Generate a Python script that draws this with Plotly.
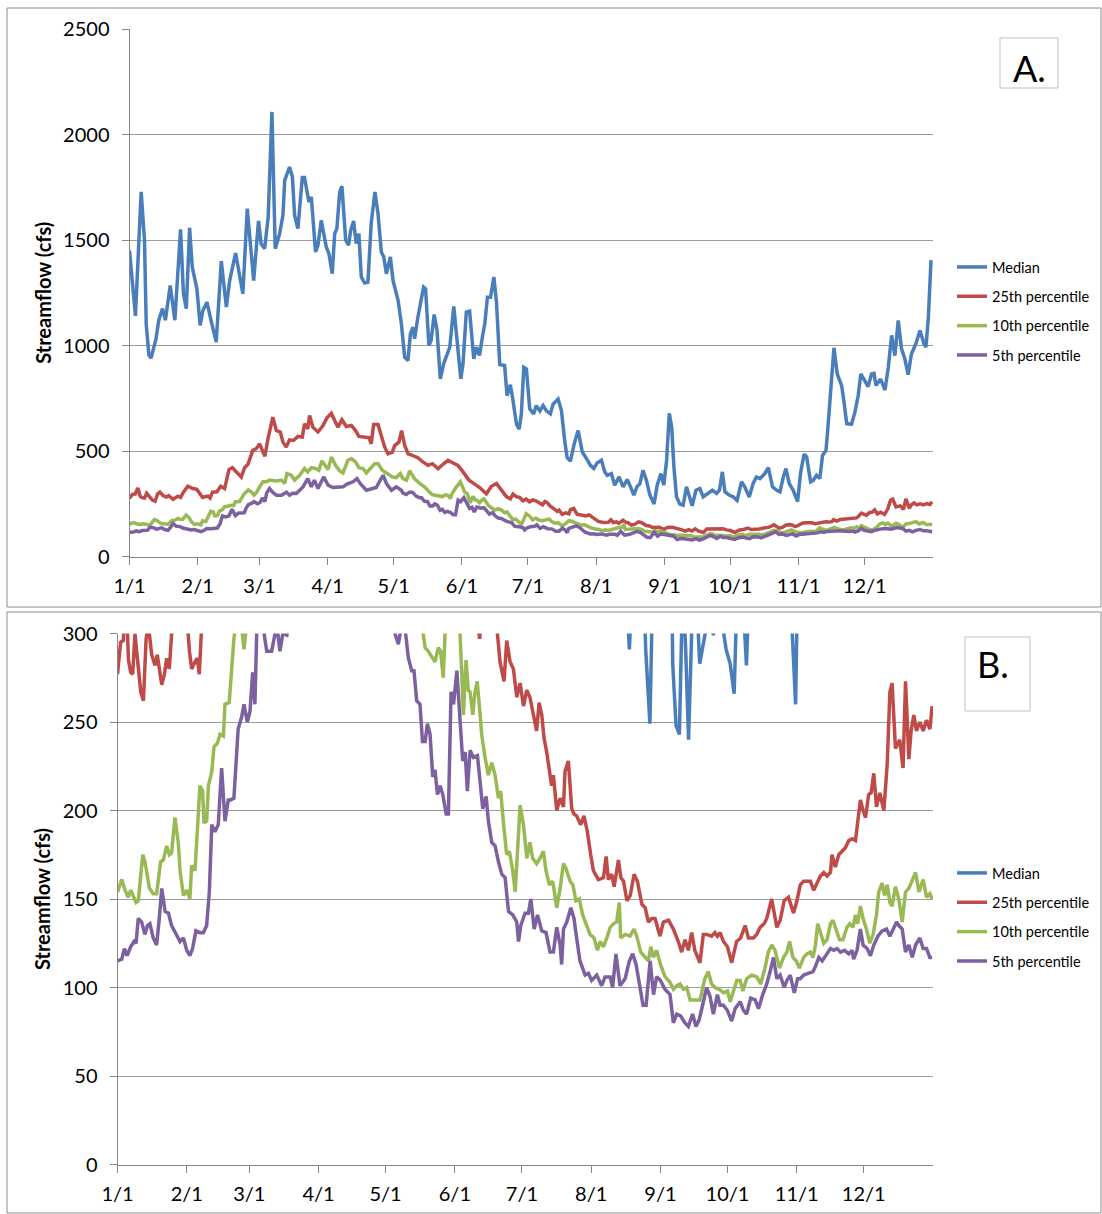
import plotly.graph_objects as go

# ---------------- data (day of year, cfs) ----------------
month_days = [0, 31, 59, 90, 120, 151, 181, 212, 243, 273, 304, 334]
month_labels = ["1/1", "2/1", "3/1", "4/1", "5/1", "6/1", "7/1", "8/1", "9/1", "10/1", "11/1", "12/1"]
series_names = ["Median", "25th percentile", "10th percentile", "5th percentile"]

median_day = [0, 2.7, 5.3, 6.8, 7.6, 8.8, 9.8, 12, 13.3, 15, 16.3, 18.5, 20.6, 23.2, 24.5, 25.8, 27.3, 28.5, 30.6, 32.1,
              33.3, 35.2, 37, 39.4, 41.7, 44, 45.5, 48.2, 51.5, 53.5, 56.4, 58.6, 59.8, 61.4, 63, 64.7, 66.2, 68.2, 69.7, 70.5,
              72.7, 74, 75, 76.5, 78.5, 79.5, 81.5, 82.6, 84.5, 85.6, 87.1, 89.4, 90.6, 92.1, 93.2, 94.2, 95.5, 96.5, 98.2, 99.5,
              100.5, 101.8, 103, 104.2, 105.3, 106.8, 108.3, 109.8, 111.5, 112.9, 114.4, 115.5, 116.7, 118.5, 119.7, 122, 123.5, 125, 126.5, 127.6,
              128.8, 129.5, 131, 133.6, 134.5, 136, 137, 138.4, 139.7, 141.2, 142.7, 145.5, 147.3, 148.5, 150.5, 151.5, 153, 154.5, 156.4, 157.6,
              159, 160.3, 161.4, 162.6, 164, 165.5, 166.7, 168.2, 170.4, 171.5, 173, 174, 175.8, 177, 178, 179.1, 180.3, 181.8, 183.6, 184.8,
              186.4, 187.9, 189.4, 191.2, 192.4, 194.7, 196.2, 197.7, 198.8, 200.3, 202, 203.8, 205.7, 207.6, 209.4, 210.9, 212.4, 214.4, 215.9, 217,
              218.9, 220.4, 222.4, 224.2, 226.1, 227.6, 229.1, 230.6, 231.8, 233.3, 234.8, 236.4, 238.3, 239.7, 241.4, 242.7, 244, 245.2, 246.3, 247.3,
              248.5, 250, 251.5, 253, 254.3, 255.6, 257.3, 259.1, 260.6, 262.9, 264.8, 266.7, 268, 269.3, 270.5, 272.4, 274.2, 276, 278, 279.5,
              281.5, 283.3, 284.8, 286.4, 288.6, 290.2, 292.1, 294, 295.5, 297, 298.2, 299.7, 301.5, 303.5, 304.8, 306.4, 307.6, 309.4, 310.6, 312.1,
              313.6, 314.8, 316.4, 317.4, 318.9, 320, 321.5, 323.5, 324.5, 325.8, 328, 329.5, 331, 332.2, 333.6, 335.5, 337.1, 338.2, 339.1, 341.2,
              343.2, 344.7, 346.2, 347.7, 349.2, 350.7, 352.2, 353.7, 355.2, 357.2, 359.1, 360.9, 361.8, 362.9, 364.1]
median_cfs = [1450, 1140, 1728, 1500, 1100, 955, 940, 1030, 1120, 1175, 1120, 1285, 1120, 1550, 1245, 1175, 1558, 1372, 1270, 1095,
              1165, 1205, 1120, 1016, 1400, 1182, 1308, 1438, 1245, 1649, 1308, 1590, 1482, 1459, 1609, 2107, 1459, 1530, 1617, 1783,
              1846, 1799, 1617, 1554, 1796, 1796, 1680, 1704, 1443, 1475, 1593, 1467, 1435, 1340, 1530, 1554, 1728, 1755, 1500, 1475,
              1546, 1590, 1483, 1530, 1325, 1296, 1300, 1580, 1728, 1625, 1443, 1420, 1340, 1420, 1308, 1214, 1103, 945, 929, 1055,
              1087, 1032, 1134, 1277, 1269, 1000, 1024, 1147, 1071, 842, 913, 992, 1185, 1055, 842, 913, 1158, 1163, 937, 992,
              953, 1040, 1103, 1229, 1229, 1325, 1206, 910, 905, 762, 814, 754, 627, 603, 675, 897, 889, 700, 676, 715,
              690, 715, 690, 676, 722, 746, 692, 548, 468, 452, 534, 597, 495, 464, 432, 417, 443, 456, 401, 385,
              393, 338, 377, 330, 365, 330, 291, 333, 343, 409, 362, 291, 249, 338, 393, 338, 456, 679, 613, 424,
              283, 248, 243, 330, 291, 240, 314, 322, 283, 299, 314, 299, 314, 401, 307, 291, 283, 266, 354, 330,
              282, 346, 377, 369, 393, 421, 330, 314, 307, 377, 417, 346, 314, 260, 393, 484, 472, 354, 361, 385,
              369, 479, 503, 629, 833, 989, 865, 810, 738, 630, 627, 683, 762, 865, 841, 805, 865, 868, 810, 841,
              789, 897, 1048, 952, 1119, 984, 937, 862, 960, 1008, 1071, 1008, 992, 1135, 1405]

p25_day = [0, 1.4, 2.6, 3.8, 4.9, 5.9, 6.8, 7.8, 8.9, 10.4, 11.6, 12.8, 13.8, 15.3, 16.8, 17.8, 19.8, 21, 22, 23.2,
           24.5, 26.5, 28.8, 30.6, 32.2, 33.2, 34.7, 35.7, 36.6, 37.7, 39.7, 41.4, 43.2, 45.2, 46.7, 48.5, 50.8, 52.3, 53.8, 56,
           57.6, 59.1, 60.6, 61.5, 62.9, 65.1, 66.7, 68.5, 69.7, 71.2, 72.7, 74.5, 76.5, 78.5, 79.5, 81, 81.8, 83.3, 85.6, 87.9,
           89.7, 91.7, 93.2, 94.7, 96.5, 98.5, 100.8, 102.7, 104.2, 106.8, 108.8, 109.8, 110.9, 112.9, 114.4, 115.9, 117.4, 119.4, 120.5, 122.4,
           123.6, 125, 126.5, 128.8, 131, 133.3, 135.6, 137.6, 140.2, 142.4, 144.7, 147, 149.2, 151.5, 154.2, 156.8, 159.1, 162.1, 164.4, 166.7,
           169, 171.2, 173, 174.2, 175.7, 177.2, 178.7, 180.2, 181.7, 183.2, 184.6, 187.6, 188.7, 189.9, 190.9, 192.1, 193.6, 194.3, 195.1, 196.6,
           198.1, 199.6, 200.3, 201.8, 203.3, 204.3, 205.5, 207.3, 208.8, 210.3, 211.8, 213, 215.2, 217.5, 218.7, 219.7, 221.2, 222.3, 224.2, 225.3,
           226.5, 228, 229.5, 231.2, 232.7, 234.7, 236.2, 237.6, 239.1, 240.6, 242.8, 244.3, 246.6, 248.8, 251, 252.5, 254, 255.5, 257, 258.4,
           260.7, 262.2, 263.7, 265.9, 267.4, 268.5, 269.7, 271.2, 273, 274.9, 277.1, 278.9, 280.9, 282.4, 284.6, 286.1, 287.6, 289.4, 290.6, 292.8,
           295.1, 296.6, 298.4, 300.3, 302.6, 304.1, 305.6, 307.1, 308.6, 310.1, 311.6, 313.1, 314.6, 316.1, 317.6, 319.1, 319.8, 321.3, 322.8, 324.3,
           325.8, 327.3, 328.8, 330.3, 331.3, 332.5, 333.7, 334.8, 336.2, 337.3, 338.5, 339.7, 341.2, 343, 344.5, 345.7, 346.7, 348.2, 350.1, 351.6,
           352.7, 354.2, 355.2, 356.4, 357.6, 359.1, 360.6, 362.1, 363.6, 364.6]
p25_cfs = [277, 295, 296, 325, 285, 278, 277, 300, 286, 267, 262, 297, 305, 288, 282, 288, 271, 277, 286, 280,
           305, 333, 322, 318, 290, 280, 284, 286, 277, 305, 307, 333, 322, 412, 421, 401, 377, 421, 437, 503,
           511, 534, 495, 475, 558, 660, 597, 590, 542, 519, 553, 550, 569, 566, 629, 605, 668, 613, 590, 621,
           657, 679, 645, 613, 648, 616, 621, 597, 569, 566, 563, 534, 626, 626, 574, 519, 487, 495, 527, 542,
           597, 527, 487, 479, 468, 448, 432, 440, 416, 437, 456, 443, 432, 401, 362, 343, 327, 297, 333, 346,
           314, 284, 273, 296, 284, 280, 264, 272, 259, 268, 264, 245, 261, 254, 241, 233, 220, 214, 220, 200,
           207, 202, 222, 228, 201, 198, 197, 192, 197, 188, 175, 166, 161, 162, 174, 161, 164, 157, 172, 162,
           160, 149, 152, 164, 160, 147, 145, 137, 139, 139, 129, 137, 138, 133, 126, 120, 127, 121, 131, 121,
           114, 130, 130, 129, 131, 129, 131, 126, 123, 114, 126, 128, 135, 128, 128, 130, 134, 136, 139, 150,
           134, 138, 149, 151, 142, 149, 158, 160, 160, 160, 155, 159, 163, 165, 163, 165, 175, 168, 175, 177,
           179, 183, 184, 183, 192, 206, 200, 196, 209, 210, 221, 202, 210, 200, 226, 267, 272, 235, 240, 224,
           273, 229, 245, 254, 245, 250, 245, 251, 246, 259]

p10_day = [0, 1.9, 3.4, 4.8, 5.9, 7.1, 8.3, 9.3, 11.3, 12.3, 14.3, 16, 17.5, 19.3, 20.5, 22, 23.2, 24.2, 25.7, 27.2,
           28, 29.5, 31, 32.4, 33.2, 34.7, 36.9, 38.1, 38.7, 39.9, 40.7, 42.2, 43.2, 44.7, 45.9, 47.4, 48.1, 50, 51.1, 52.1,
           54, 55.5, 56.6, 57.8, 59.1, 60.6, 62.1, 63.6, 66.7, 69, 70.5, 71.5, 73.5, 75, 77.3, 79.5, 81, 82.6, 84.5, 86,
           87.4, 89.1, 90.2, 91.7, 93.6, 95.5, 97, 99.2, 100.8, 102.7, 104.2, 106.1, 107.6, 109.4, 111.4, 112.9, 114.8, 116.7, 119.4, 121.2,
           123, 124.2, 125.8, 127.3, 129.5, 131.8, 134, 136.9, 137.7, 139.1, 140.6, 142.1, 143.6, 144.6, 145.8, 146.6, 148.5, 150.3, 152.3, 153.3,
           154.1, 154.8, 156, 157, 157.8, 159, 160, 161, 162.3, 163, 164.5, 166, 167.5, 169, 170.5, 171.5, 172.8, 174.2, 175.4, 176.9,
           178, 179, 180.2, 181.7, 183.2, 184.6, 185.8, 187.6, 189.1, 190.6, 191.8, 193.3, 194.8, 196.6, 198.1, 199.6, 200.8, 202.6, 203.8, 205.2,
           206.7, 208.2, 209.7, 211.5, 213.3, 214.8, 216, 217.5, 219, 220.5, 222, 223.4, 224.6, 225.2, 227.2, 229.4, 231.2, 232.4, 234.2, 236.1,
           237.6, 238.7, 239.9, 241.3, 243, 245.1, 247.3, 248.8, 250.3, 251.8, 253.3, 254.8, 256.3, 258.4, 260.7, 262.9, 264.4, 265.9, 267.4, 269.3,
           271.2, 273, 274.2, 275.7, 277.2, 278.7, 279.9, 281.6, 283.9, 286.1, 287.9, 289.8, 291.3, 292.8, 294.3, 296.3, 298.1, 299.6, 300.8, 302.3,
           303.8, 305.2, 307.1, 308.6, 310.1, 311.3, 312.4, 313.4, 314.6, 316.1, 317.6, 319.1, 320.2, 321.7, 323.2, 324.7, 326.5, 327.7, 329.2, 330.3,
           331.3, 332.5, 333.7, 335.2, 336.7, 338.2, 339.7, 340.7, 342.2, 343.3, 344.5, 345.7, 346.7, 348.2, 349.7, 351.2, 352.7, 354.2, 355.7, 357.2,
           358.7, 360.6, 362.1, 363.6, 364.6]
p10_cfs = [154, 161, 155, 151, 155, 152, 148, 149, 175, 171, 156, 153, 153, 171, 172, 180, 175, 176, 196, 182,
           166, 152, 155, 150, 169, 166, 214, 211, 193, 194, 214, 222, 236, 238, 243, 242, 260, 261, 282, 297,
           315, 305, 291, 305, 330, 354, 354, 362, 358, 362, 346, 393, 385, 362, 385, 417, 401, 421, 417, 409,
           453, 428, 412, 472, 432, 406, 396, 456, 464, 448, 421, 417, 396, 417, 440, 440, 409, 396, 377, 374,
           393, 369, 362, 406, 369, 346, 330, 299, 292, 290, 287, 284, 292, 290, 275, 300, 330, 354, 305, 300,
           277, 254, 285, 268, 267, 254, 267, 273, 254, 243, 230, 220, 227, 220, 207, 211, 192, 175, 177, 166,
           154, 173, 203, 192, 173, 182, 173, 170, 173, 177, 166, 158, 160, 145, 156, 170, 167, 160, 158, 149,
           150, 141, 136, 130, 128, 121, 126, 123, 128, 134, 136, 137, 148, 128, 130, 129, 133, 129, 120, 117,
           115, 123, 117, 121, 113, 106, 103, 99, 101, 102, 99, 100, 93, 93, 93, 105, 109, 102, 100, 99,
           97, 98, 92, 98, 104, 104, 98, 105, 107, 106, 102, 111, 120, 124, 121, 111, 117, 120, 126, 117,
           115, 111, 117, 119, 120, 117, 124, 136, 131, 125, 127, 136, 138, 132, 127, 127, 134, 136, 134, 141,
           136, 146, 139, 133, 125, 130, 141, 154, 159, 152, 158, 148, 146, 157, 150, 137, 154, 156, 160, 165,
           154, 161, 151, 153, 150]

p5_day = [0, 1.9, 3.1, 4.3, 5.9, 7.4, 8.3, 9.3, 10.8, 12.3, 13.4, 14.5, 16, 17.5, 18.7, 19.8, 21.3, 22.8, 24.2, 26.2,
          28, 29.5, 31, 32.4, 33.6, 35.1, 36.9, 38.4, 39.9, 41.1, 42.2, 43.6, 45.1, 46.6, 48.1, 49.6, 50.7, 52.1, 53, 54,
          55.6, 56.6, 58.1, 59.3, 60.5, 61.5, 62.3, 63.6, 65, 66.8, 69, 70.5, 71.3, 72.7, 74, 75.8, 78.8, 81, 82.6, 84,
          85.6, 88.2, 90.2, 92.4, 94.7, 97, 98.8, 101.5, 103.3, 104.8, 107.6, 110.6, 112.1, 113.9, 115.2, 116.7, 119, 121.2, 123.5, 124.2,
          125.7, 127.2, 128.5, 130.2, 131.7, 132.7, 133.9, 135.4, 136.5, 137.7, 138.7, 139.9, 141.1, 142.1, 143.2, 144.4, 145.6, 147.1, 148.1, 149.3,
          150.4, 151.9, 153.1, 154.5, 155.6, 156.6, 157.8, 159.3, 161.1, 162.3, 163.5, 165, 166, 167.5, 169, 170.5, 172, 173.5, 175, 176.9,
          178.7, 179.5, 180.5, 182.4, 183.9, 185, 186.5, 188, 189.9, 191.8, 193.6, 195.1, 196.6, 198.1, 198.8, 199.6, 201.1, 202.9, 204.3, 205.5,
          207, 209.3, 210.8, 212.2, 214.5, 216.7, 218.2, 220.5, 221.6, 223.1, 224.9, 227.2, 229.1, 230.6, 232.1, 233.2, 235.2, 236.6, 238.4, 239.9,
          241.3, 243, 245, 247.3, 248.8, 250.3, 252, 254, 255.5, 257.4, 258.9, 260.4, 262.2, 263.7, 265.2, 266.7, 268.5, 269.7, 271.2, 273,
          274.9, 276.4, 278.7, 280.2, 281.6, 283.4, 285.4, 286.9, 288.8, 290.6, 292.1, 293.6, 295.1, 296.6, 298.4, 299.6, 301.1, 302.9, 304.4, 305.6,
          307.1, 309.4, 311.3, 312.4, 313.9, 315.4, 316.9, 319.1, 320.6, 322.1, 323.6, 325.4, 327.3, 328.8, 329.5, 331, 332.5, 333.7, 335.5, 337,
          338.5, 340.3, 342.2, 344.2, 345.7, 347.2, 348.7, 349.7, 351.2, 352.7, 354.2, 355.7, 357.2, 359.1, 360.6, 362.1, 363.6, 364.6]
p5_cfs = [115, 116, 122, 118, 123, 126, 125, 139, 137, 130, 135, 136, 128, 124, 139, 156, 143, 142, 135, 130,
          126, 128, 121, 118, 122, 132, 131, 131, 135, 154, 192, 188, 192, 224, 194, 206, 206, 207, 230, 246,
          253, 260, 250, 256, 278, 260, 300, 322, 305, 290, 290, 300, 305, 290, 300, 299, 330, 369, 330, 362,
          322, 377, 338, 327, 330, 330, 343, 354, 369, 346, 314, 322, 327, 362, 385, 346, 314, 330, 314, 300,
          294, 305, 305, 286, 279, 279, 262, 260, 239, 239, 249, 243, 219, 223, 209, 214, 209, 198, 198, 267,
          260, 279, 256, 228, 233, 211, 234, 230, 231, 218, 201, 208, 194, 182, 180, 171, 164, 162, 143, 141,
          137, 126, 135, 142, 142, 150, 133, 141, 132, 131, 120, 120, 134, 124, 113, 133, 137, 145, 139, 128,
          115, 107, 108, 104, 107, 101, 106, 106, 100, 119, 101, 105, 115, 119, 113, 105, 90, 90, 115, 96,
          106, 104, 99, 96, 80, 85, 84, 80, 78, 85, 78, 82, 92, 100, 95, 85, 96, 90, 90, 87,
          81, 88, 92, 87, 85, 94, 93, 88, 96, 102, 109, 117, 105, 107, 100, 104, 107, 97, 105, 105,
          107, 108, 109, 112, 117, 115, 118, 122, 121, 122, 120, 121, 119, 121, 116, 121, 133, 124, 122, 118,
          124, 129, 132, 133, 129, 133, 137, 135, 133, 120, 124, 117, 124, 128, 122, 122, 117, 117]

series_days = [median_day, p25_day, p10_day, p5_day]
series_vals = [median_cfs, p25_cfs, p10_cfs, p5_cfs]
colors = ["#4A7EBB", "#BE4B48", "#98B954", "#7D60A0"]

# ---------------- figure ----------------
W, H = 1102, 1214
def px(x):
    return x / W
def py(y):
    return 1 - y / H

FONT = "Lato, 'Open Sans', Arial, sans-serif"
fig = go.Figure()

for panel, (xa, ya, lg) in enumerate([("x", "y", "legend"), ("x2", "y2", "legend2")]):
    for i in range(4):
        fig.add_trace(go.Scatter(
            x=series_days[i], y=series_vals[i], mode="lines",
            name=series_names[i],
            line=dict(color=colors[i], width=3.5),
            xaxis=xa, yaxis=ya, legend=lg,
            legendgroup=f"g{panel}{i}",
            hoverinfo="skip",
        ))

axis_grey = "#868686"
grid_grey = "#9c9c9c"

common_x = dict(
    range=[0, 365], tickmode="array", tickvals=month_days, ticktext=month_labels,
    ticks="outside", ticklen=7, tickcolor=axis_grey, tickwidth=1,
    showline=True, linecolor=axis_grey, linewidth=1,
    showgrid=False, zeroline=False, automargin=False,
    tickfont=dict(family=FONT, size=20, color="#000"),
    ticklabelstandoff=4,
)
common_y = dict(
    ticks="outside", ticklen=7, tickcolor=axis_grey, tickwidth=1,
    showline=True, linecolor=axis_grey, linewidth=1,
    showgrid=True, gridcolor=grid_grey, gridwidth=1, zeroline=False, automargin=False,
    tickfont=dict(family=FONT, size=20, color="#000"),
    ticklabelstandoff=8,
    title=dict(text="Streamflow (cfs)", font=dict(family=FONT, size=20, color="#000", weight="bold"), standoff=6),
)

legend_common = dict(
    xanchor="left", yanchor="top", bgcolor="rgba(0,0,0,0)",
    font=dict(family=FONT, size=14.5, color="#000"),
    tracegroupgap=7.5, itemwidth=30, traceorder="grouped",
)

fig.update_layout(
    width=W, height=H, margin=dict(l=0, r=0, t=0, b=0, pad=0, autoexpand=False),
    paper_bgcolor="white", plot_bgcolor="white",
    showlegend=True,
    xaxis=dict(domain=[px(129.5), px(933)], anchor="y", **common_x),
    yaxis=dict(domain=[py(556.5), py(29)], anchor="x", range=[0, 2500], dtick=500, **common_y),
    xaxis2=dict(domain=[px(117.5), px(933)], anchor="y2", **common_x),
    yaxis2=dict(domain=[py(1164.5), py(633.5)], anchor="x2", range=[0, 300], dtick=50, **common_y),
    legend=dict(x=px(952), y=py(251), **legend_common),
    legend2=dict(x=px(952), y=py(857), **legend_common),
)

# panel frames
frame = dict(type="rect", xref="paper", yref="paper", line=dict(color="#8c8c8c", width=1), fillcolor="rgba(0,0,0,0)", layer="below")
fig.add_shape(x0=px(7), x1=px(1101), y0=py(607), y1=py(8), **frame)
fig.add_shape(x0=px(7), x1=px(1101), y0=py(1213), y1=py(612), **frame)

# label boxes
box = dict(type="rect", xref="paper", yref="paper", line=dict(color="#bfbfbf", width=1), fillcolor="white")
fig.add_shape(x0=px(1000), x1=px(1058), y0=py(88), y1=py(38), **box)
fig.add_shape(x0=px(965), x1=px(1030), y0=py(711), y1=py(637), **box)
fig.add_annotation(x=px(1029), y=py(68), xref="paper", yref="paper", text="A.", showarrow=False,
                   font=dict(family=FONT, size=36, color="#000"), xanchor="center", yanchor="middle")
fig.add_annotation(x=px(993), y=py(664), xref="paper", yref="paper", text="B.", showarrow=False,
                   font=dict(family=FONT, size=36, color="#000"), xanchor="center", yanchor="middle")

fig.write_html(
    "out.html",
    config={"displayModeBar": False, "staticPlot": True},
    post_script="document.body.style.margin='0';document.body.style.overflow='hidden';",
)
